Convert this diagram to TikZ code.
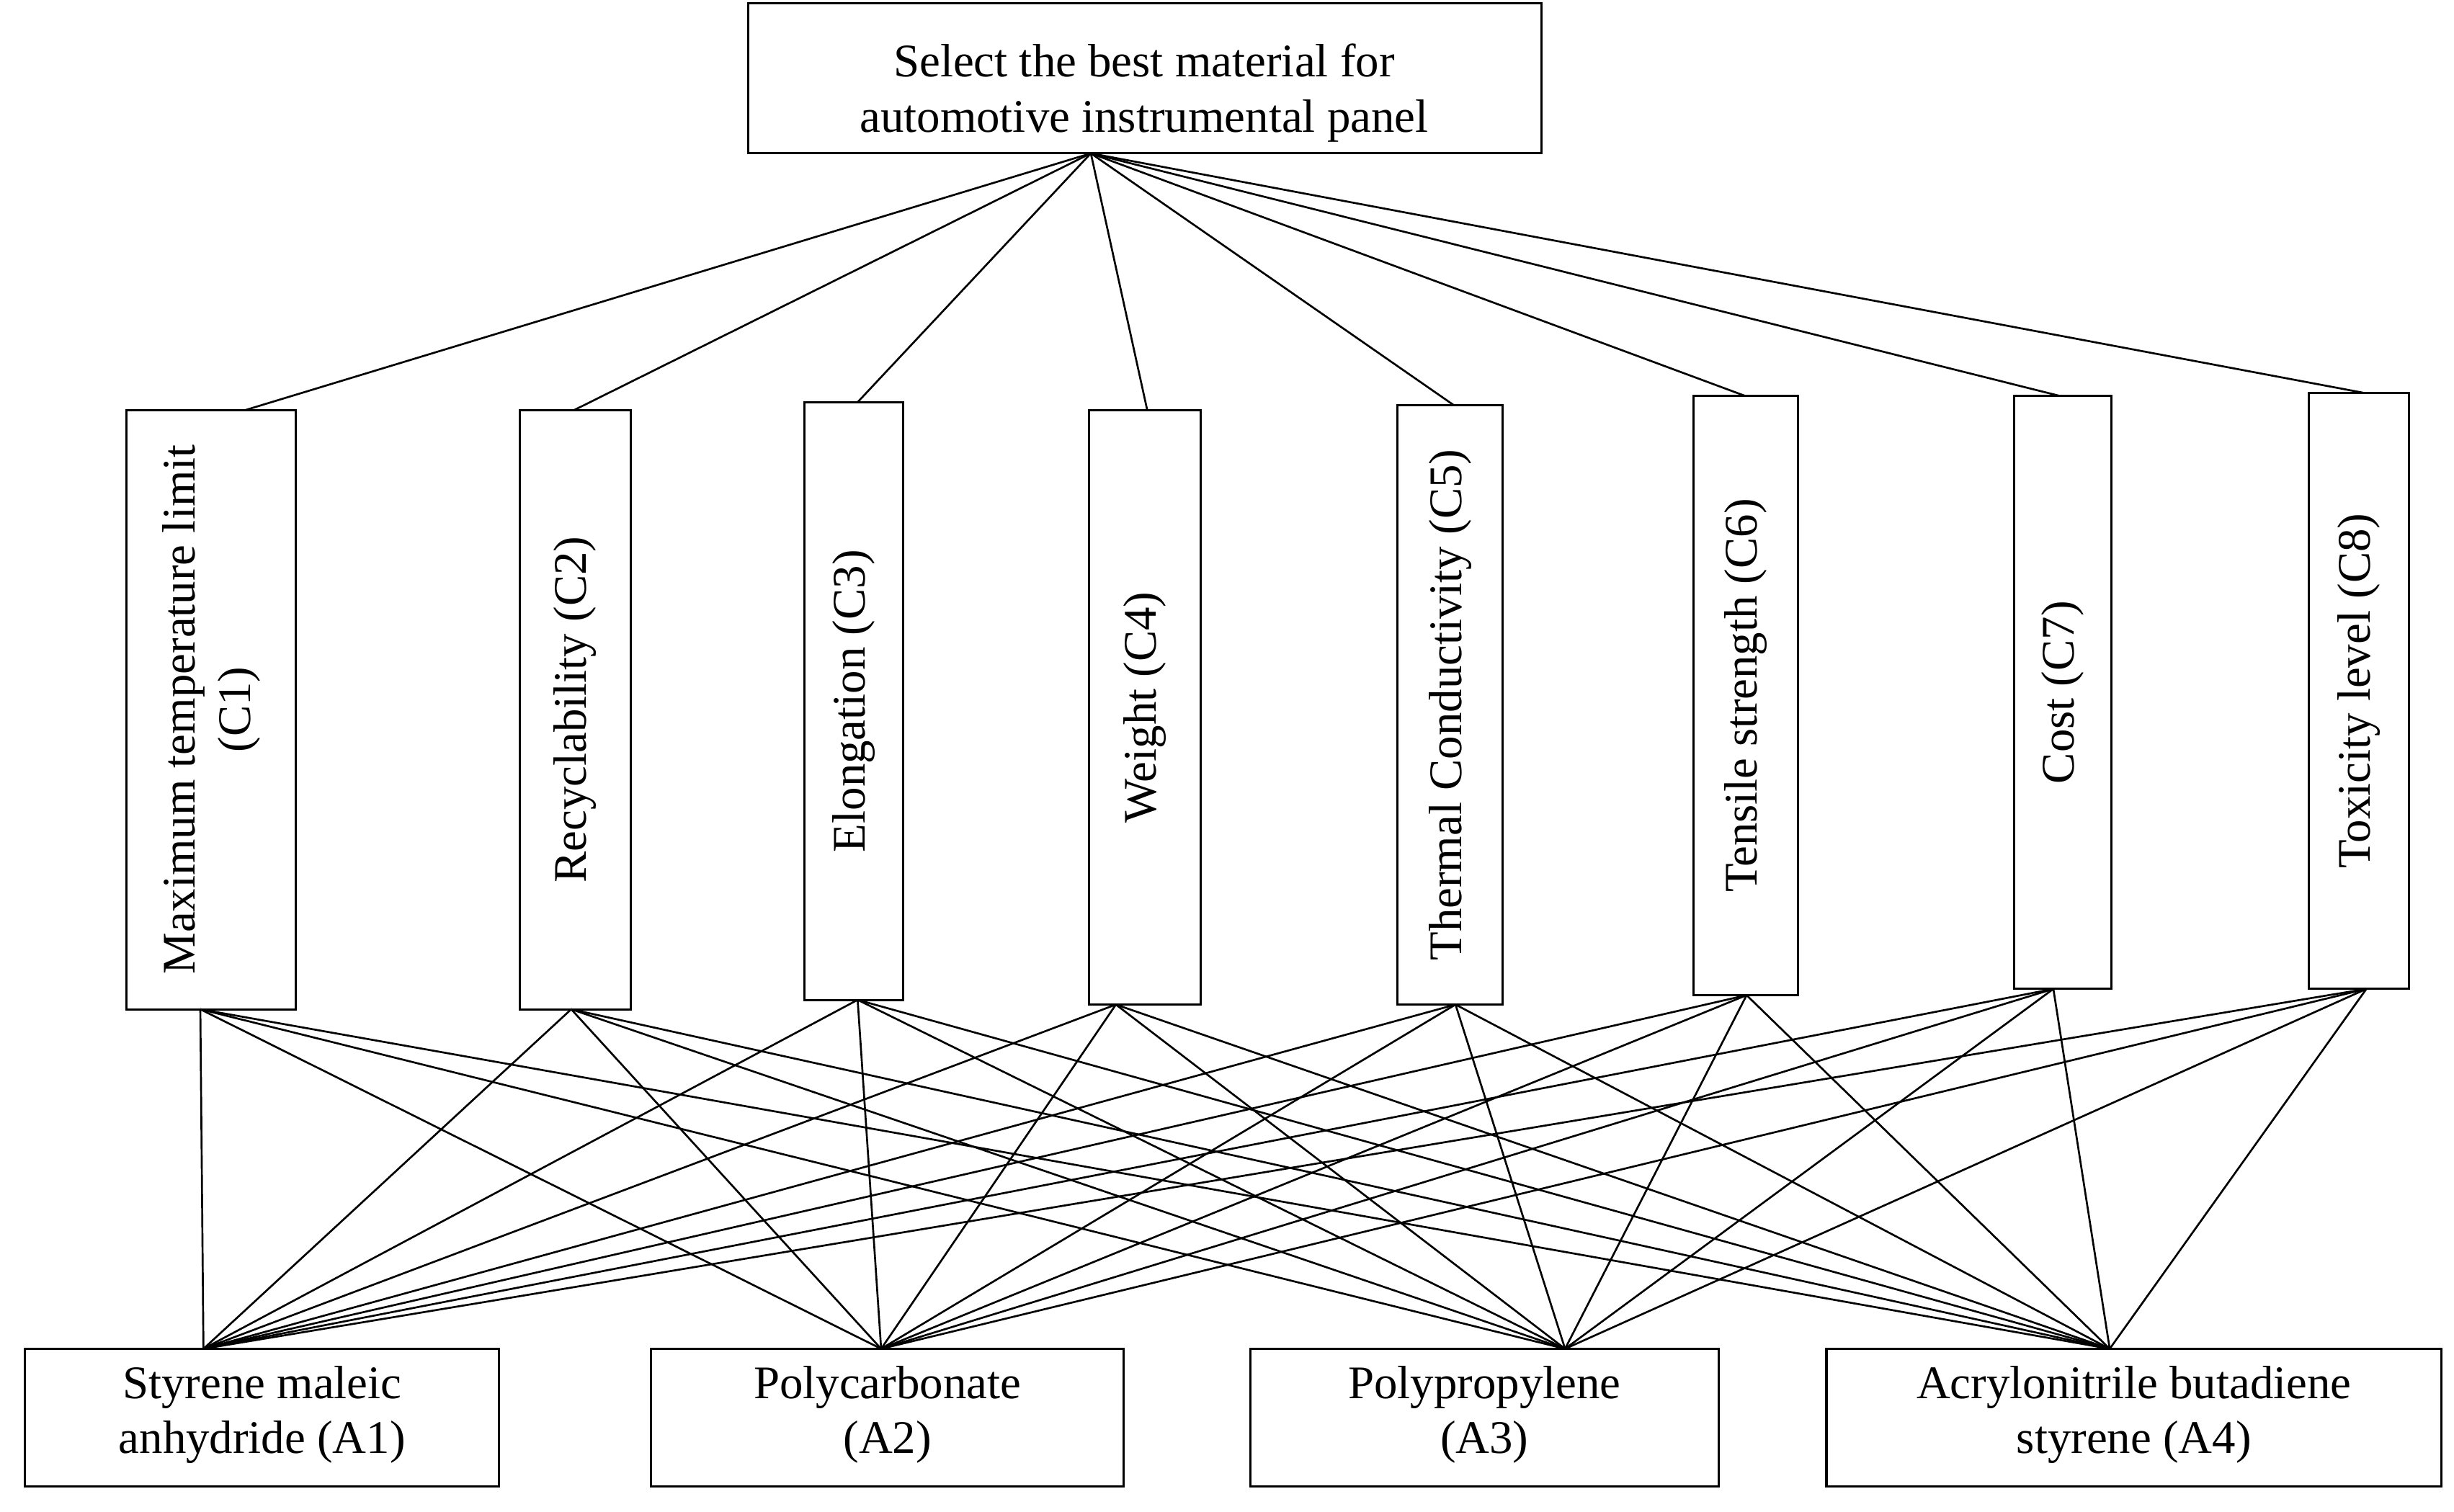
\documentclass[tikz,border=0pt]{standalone}
\usepackage{fontspec}
\setmainfont{Liberation Serif}
\begin{document}
\begin{tikzpicture}[x=0.02cm,y=-0.02cm,
  box/.style={draw,line width=0.8pt,inner sep=0pt},
  lab/.style={font=\fontsize{17}{20}\selectfont,align=center},
  ln/.style={line width=0.7pt}]
\useasboundingbox (0,0) rectangle (1568,966);
\draw[box] (478,2) rectangle (985,98);
\node[lab,anchor=north] (top) at (731,22) {Select the best material for\\automotive instrumental panel};
\clip[use as bounding box=false] (0,0) rectangle (1568,966);
\coordinate (T) at (697,98);
\foreach \n/\a/\b/\t/\bt/\tx/\bx/\txt in {
 1/81/189/262/645/157/128/{Maximum temperature limit\\(C1)},
 2/332/403/262/645/367/365/{Recyclability (C2)},
 3/514/577/257/639/548/548/{Elongation (C3)},
 4/696/767/262/642/733/713/{Weight (C4)},
 5/893/960/259/642/929/930/{Thermal Conductivity (C5)},
 6/1082/1149/253/636/1115/1116/{Tensile strength (C6)},
 7/1287/1349/253/632/1316/1312/{Cost (C7)},
 8/1475/1539/251/632/1510/1512/{Toxicity level (C8)}}{
  \draw[box] (\a,\t) rectangle (\b,\bt);
  \node[lab,rotate=90] (c\n) at ({(\a+\b)/2},{(\t+\bt)/2}) {\txt};
  \coordinate (ct\n) at (\tx,\t);
  \coordinate (cb\n) at (\bx,\bt);
  \draw[ln] (T) -- (ct\n);
}
\foreach \n/\a/\b/\p/\txt in {
 1/16/319/130/{Styrene maleic\\anhydride (A1)},
 2/416/718/563/{Polycarbonate\\(A2)},
 3/799/1098/1000/{Polypropylene\\(A3)},
 4/1167/1560/1348/{Acrylonitrile butadiene\\styrene (A4)}}{
  \draw[box] (\a,862) rectangle (\b,950);
  \node[lab] (a\n) at ({(\a+\b)/2},904) {\txt};
  \coordinate (ap\n) at (\p,862);
}
\foreach \i in {1,...,8}{\foreach \j in {1,...,4}{\draw[ln] (cb\i) -- (ap\j);}}
\end{tikzpicture}
\end{document}
